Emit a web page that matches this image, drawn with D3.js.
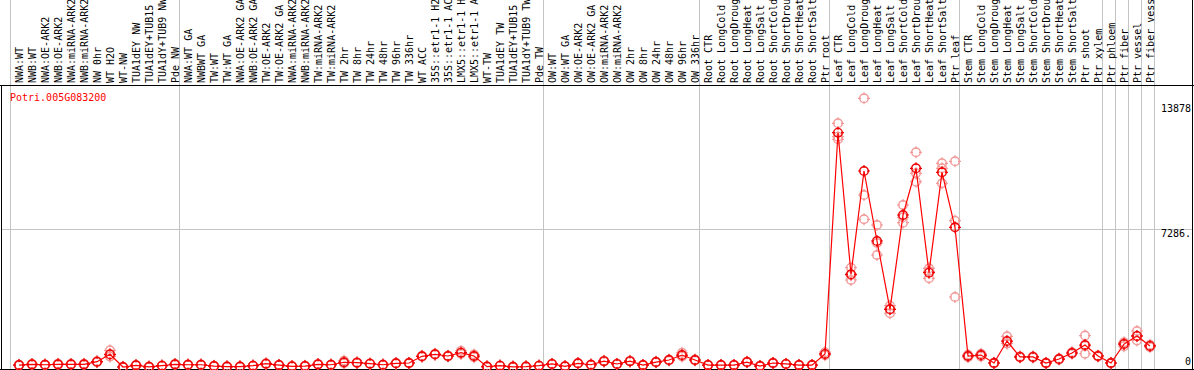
<!DOCTYPE html>
<html>
<head>
<meta charset="utf-8">
<script src="https://cdn.jsdelivr.net/npm/d3@7"></script>
<style>
  body { margin: 0; background: #fff; }
  svg { display: block; }
  text { font-family: "DejaVu Sans Mono", monospace; font-size: 10px; }
</style>
</head>
<body>
<div id="chart"></div>
<script>
const geneId = 'Potri.005G083200';

const labels = [
  'NWA:WT', 'NWB:WT', 'NWA:OE-ARK2', 'NWB:OE-ARK2', 'NWA:miRNA-ARK2', 'NWB:miRNA-ARK2', 'NW 0hr', 'WT H2O',
  'WT-NW', 'TUA1dEY NW', 'TUA1dEY+TUB15', 'TUA1dY+TUB9 NW', 'Pde NW',
  'NWA:WT GA', 'NWBWT GA', 'TW:WT', 'TW:WT GA', 'NWA:OE-ARK2 GA', 'NWB:OE-ARK2 GA', 'TW:OE-ARK2', 'TW:OE-ARK2 GA',
  'NWA:miRNA-ARK2', 'NWB:miRNA-ARK2', 'TW:miRNA-ARK2', 'TW:miRNA-ARK2', 'TW 2hr', 'TW 8hr', 'TW 24hr', 'TW 48hr',
  'TW 96hr', 'TW 336hr', 'WT ACC', '35S::etr1-1 H2', '35S::etr1-1 AC', 'LMX5::etr1-1 H', 'LMX5::etr1-1 A',
  'WT-TW', 'TUA1dEY TW', 'TUA1dEY+TUB15', 'TUA1dY+TUB9 TW', 'Pde TW',
  'OW:WT', 'OW:WT GA', 'OW:OE-ARK2', 'OW:OE-ARK2 GA', 'OW:miRNA-ARK2', 'OW:miRNA-ARK2', 'OW 2hr', 'OW 8hr',
  'OW 24hr', 'OW 48hr', 'OW 96hr', 'OW 336hr',
  'Root CTR', 'Root LongCold', 'Root LongDroug', 'Root LongHeat', 'Root LongSalt', 'Root ShortCold',
  'Root ShortDrou', 'Root ShortHeat', 'Root ShortSalt', 'Ptr root',
  'Leaf CTR', 'Leaf LongCold', 'Leaf LongDroug', 'Leaf LongHeat', 'Leaf LongSalt', 'Leaf ShortCold',
  'Leaf ShortDrou', 'Leaf ShortHeat', 'Leaf ShortSalt', 'Ptr leaf',
  'Stem CTR', 'Stem LongCold', 'Stem LongDroug', 'Stem LongHeat', 'Stem LongSalt', 'Stem ShortCold',
  'Stem ShortDrou', 'Stem ShortHeat', 'Stem ShortSalt', 'Ptr shoot', 'Ptr xylem',
  'Ptr phloem', 'Ptr fiber', 'Ptr vessel', 'Ptr fiber vess'
];

// mean expression per sample
const means = [
  100, 140, 120, 140, 140, 140, 280, 670, 0, 90, 10, 70, 140,
  120, 120, 50, 20, 20, 70, 175, 100, 35, 50, 140, 120, 250, 230, 175, 120, 195, 210,
  565, 670, 580, 755, 580, 20, 70, 10, 20, 70,
  160, 35, 195, 120, 310, 160, 310, 100, 260, 370, 630, 370,
  100, 100, 100, 260, 50, 210, 160, 100, 100, 690,
  12364, 4892, 10343, 6649, 3045, 8021, 10485, 4977, 10274, 7372,
  580, 630, 210, 1370, 530, 530, 210, 420, 740, 1160, 580,
  210, 1210, 1640, 1110
];

// individual replicates per sample
const replicates = [
  [80, 120, 100], [120, 160, 140], [110, 130, 120], [120, 170, 130], [130, 160, 130], [120, 170, 130],
  [250, 300, 290], [560, 880, 570], [0, 0, 0], [80, 100, 90], [0, 20, 10], [60, 80, 70], [120, 160, 140],
  [110, 130, 120], [110, 130, 120], [40, 60, 50], [10, 30, 20], [10, 30, 20], [60, 80, 70], [150, 200, 175],
  [90, 110, 100], [30, 40, 35], [40, 60, 50], [130, 150, 140], [110, 130, 120], [200, 330, 220],
  [210, 250, 230], [160, 190, 175], [110, 130, 120], [180, 210, 195], [190, 230, 210],
  [540, 590, 565], [650, 700, 660], [560, 600, 580], [700, 850, 715], [520, 660, 560],
  [10, 30, 20], [60, 80, 70], [0, 20, 10], [10, 30, 20], [60, 80, 70],
  [150, 170, 160], [30, 40, 35], [180, 210, 195], [110, 130, 120], [290, 330, 310], [150, 170, 160],
  [290, 330, 310], [90, 110, 100], [240, 280, 260], [340, 400, 370], [560, 750, 580], [340, 400, 370],
  [90, 110, 100], [90, 110, 100], [90, 110, 100], [240, 280, 260], [40, 60, 50], [190, 230, 210],
  [150, 170, 160], [90, 110, 100], [90, 110, 100], [620, 780, 670],
  [12860, 12153, 12016], [5240, 4591, 4845], [14179, 9076, 7794], [7493, 5910, 6544], [3235, 2834, 3066],
  [8549, 7615, 7900], [11330, 10222, 9778], [5208, 4680, 5050], [10750, 10485, 9694], [10855, 7720, 3694],
  [520, 640, 580], [560, 700, 630], [190, 230, 210], [1620, 1250, 1240], [500, 560, 530], [500, 560, 530],
  [190, 230, 210], [390, 450, 420], [700, 780, 740], [1660, 700, 1120], [550, 610, 580],
  [190, 230, 210], [1100, 1300, 1230], [1900, 1400, 1620], [1050, 1170, 1110]
];

// index where each sample block starts (grey separators)
const groupBreaks = [0, 13, 41, 53, 63, 73, 84, 85, 86, 87, 88];

const yTicks = [0, 7286, 13878];
const yTickLabels = ['0', '7286.', '13878'];

const width = 1194, height = 370;
const plotTop = 85.5, plotBottom = 369.5, plotLeft = 1.5, plotRight = 1192.5;

const svg = d3.select('#chart').append('svg')
  .attr('width', width)
  .attr('height', height);

svg.append('rect').attr('width', width).attr('height', height).attr('fill', '#fff');

const x = d3.scaleBand()
  .domain(d3.range(labels.length))
  .range([11, 11 + 13 * labels.length]);

const y = d3.scaleLinear()
  .domain([0, 13878])
  .range([367, 104]);

const cx = i => x(i) + x.bandwidth() / 2 + 1.5;
const breakX = d => (d < labels.length ? x(d) : x(labels.length - 1) + x.step());

// separators
svg.append('g')
  .selectAll('line')
  .data(groupBreaks)
  .enter().append('line')
  .attr('x1', d => Math.round(breakX(d)) - 0.5)
  .attr('x2', d => Math.round(breakX(d)) - 0.5)
  .attr('y1', 0)
  .attr('y2', height)
  .attr('stroke', '#c4c4c4')
  .attr('stroke-width', 1);

// middle grid line
svg.append('line')
  .attr('x1', plotLeft).attr('x2', plotRight)
  .attr('y1', Math.round(y(yTicks[1])) + 0.5).attr('y2', Math.round(y(yTicks[1])) + 0.5)
  .attr('stroke', '#c4c4c4');

// frame
svg.append('line').attr('x1', 0).attr('x2', width).attr('y1', plotTop).attr('y2', plotTop).attr('stroke', '#000');
svg.append('line').attr('x1', 0).attr('x2', width).attr('y1', plotBottom).attr('y2', plotBottom).attr('stroke', '#000');
svg.append('line').attr('x1', plotLeft).attr('x2', plotLeft).attr('y1', plotTop).attr('y2', height).attr('stroke', '#000');
svg.append('line').attr('x1', plotRight).attr('x2', plotRight).attr('y1', 0).attr('y2', height).attr('stroke', '#000');

// sample labels
svg.append('g')
  .selectAll('text')
  .data(labels)
  .enter().append('text')
  .attr('transform', (d, i) => `translate(${x(i) + x.bandwidth() / 2 + 5},83) rotate(-90)`)
  .attr('fill', '#000')
  .text(d => d);

// y tick labels
svg.append('g')
  .selectAll('text')
  .data(yTicks)
  .enter().append('text')
  .attr('x', 1191)
  .attr('y', (d, i) => i === 0 ? y(d) - 2 : y(d) + 8)
  .attr('text-anchor', 'end')
  .attr('fill', '#000')
  .text((d, i) => yTickLabels[i]);

svg.append('text')
  .attr('x', 10)
  .attr('y', 101)
  .attr('fill', '#ff0000')
  .text(geneId);

function marker(sel, color) {
  sel.append('circle')
    .attr('r', 4.3)
    .attr('fill', 'none')
    .attr('stroke', color)
    .attr('stroke-width', 1.4);
  sel.append('path')
    .attr('d', 'M0,-6V-3M0,3V6M-6,0H-3M3,0H6')
    .attr('stroke', color)
    .attr('stroke-width', 1.2);
}

// replicate points
const repData = [];
replicates.forEach((r, i) => r.forEach(v => repData.push({ i, v })));

svg.append('g')
  .selectAll('g')
  .data(repData)
  .enter().append('g')
  .attr('transform', d => `translate(${cx(d.i)},${y(d.v)})`)
  .call(marker, '#f29a9a');

// mean line
svg.append('path')
  .datum(means)
  .attr('fill', 'none')
  .attr('stroke', '#ff0000')
  .attr('stroke-width', 1.2)
  .attr('d', d3.line().x((d, i) => cx(i)).y(d => y(d)));

// mean points
svg.append('g')
  .selectAll('g')
  .data(means)
  .enter().append('g')
  .attr('transform', (d, i) => `translate(${cx(i)},${y(d)})`)
  .call(marker, '#ee0000');
</script>
</body>
</html>
